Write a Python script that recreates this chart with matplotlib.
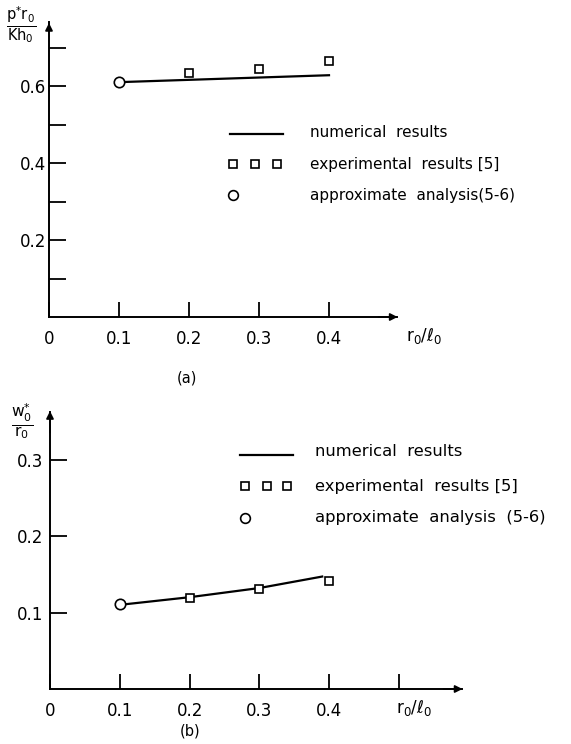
import matplotlib
matplotlib.use("Agg")
import matplotlib.pyplot as plt

# (a) dimensionless load vs r0/l0
x_num_a = [0.1, 0.2, 0.3, 0.4]
y_num_a = [0.610, 0.616, 0.622, 0.628]
x_exp_a = [0.2, 0.3, 0.4]
y_exp_a = [0.634, 0.645, 0.666]
x_app_a = [0.1]
y_app_a = [0.610]

# (b) dimensionless deflection vs r0/l0
x_num_b = [0.1, 0.2, 0.3, 0.39]
y_num_b = [0.110, 0.120, 0.132, 0.147]
x_exp_b = [0.2, 0.3, 0.4]
y_exp_b = [0.119, 0.131, 0.141]
x_app_b = [0.1]
y_app_b = [0.111]

xticks_a = [0, 0.1, 0.2, 0.3, 0.4]
xticklabels_a = ["0", "0.1", "0.2", "0.3", "0.4"]
yticks_a = [0.1, 0.2, 0.3, 0.4, 0.5, 0.6, 0.7]
yticklabels_a = ["", "0.2", "", "0.4", "", "0.6", ""]

xticks_b = [0, 0.1, 0.2, 0.3, 0.4, 0.5]
xticklabels_b = ["0", "0.1", "0.2", "0.3", "0.4", ""]
yticks_b = [0.1, 0.2, 0.3]
yticklabels_b = ["0.1", "0.2", "0.3"]

legend_labels_a = ["numerical  results", "experimental  results [5]", "approximate  analysis(5-6)"]
legend_labels_b = ["numerical  results", "experimental  results [5]", "approximate  analysis  (5-6)"]

plt.rcParams["font.family"] = "DejaVu Sans"
plt.rcParams["mathtext.fontset"] = "dejavusans"

W, H = 571, 744
fig = plt.figure(figsize=(W / 100, H / 100), dpi=100)


def place(ox, oy, sx, sy, xlim, ylim):
    # axes whose data->pixel mapping is origin (ox, oy) px, sx/sy px per unit
    left = ox + xlim[0] * sx
    right = ox + xlim[1] * sx
    bottom = oy - ylim[0] * sy
    top = oy - ylim[1] * sy
    ax = fig.add_axes([left / W, 1 - bottom / H, (right - left) / W, (bottom - top) / H])
    ax.set_xlim(*xlim)
    ax.set_ylim(*ylim)
    ax.patch.set_visible(False)
    return ax


def style_axes(ax, xend, yend, xticks, xtl, yticks, ytl, ypad):
    for s in ["top", "right"]:
        ax.spines[s].set_visible(False)
    ax.spines["left"].set_position(("data", 0))
    ax.spines["bottom"].set_position(("data", 0))
    ax.spines["left"].set_bounds(0, yend)
    ax.spines["bottom"].set_bounds(0, xend)
    for s in ["left", "bottom"]:
        ax.spines[s].set_linewidth(1.4)
    ax.annotate("", xy=(0, yend + 0.005), xytext=(0, yend - 0.03),
                arrowprops=dict(arrowstyle="-|>", color="black", lw=1.2, mutation_scale=11))
    ax.annotate("", xy=(xend + 0.005, 0), xytext=(xend - 0.03, 0),
                arrowprops=dict(arrowstyle="-|>", color="black", lw=1.2, mutation_scale=11))
    ax.set_xticks(xticks)
    ax.set_xticklabels(xtl)
    ax.set_yticks(yticks)
    ax.set_yticklabels(ytl)
    ax.tick_params(axis="x", direction="in", length=11, width=1.3, pad=9, labelsize=12)
    ax.tick_params(axis="y", direction="in", length=12, width=1.3, pad=ypad, labelsize=12)


def draw_legend(ax, x0, x1, xt, ys, sq_x, labels, fs):
    ax.plot([x0, x1], [ys[0], ys[0]], color="black", lw=1.6, clip_on=False)
    ax.plot(sq_x, [ys[1]] * len(sq_x), ls="none", marker="s", ms=6, mfc="white",
            mec="black", mew=1.2, clip_on=False)
    ax.plot([sq_x[0]], [ys[2]], ls="none", marker="o", ms=7, mfc="white",
            mec="black", mew=1.2, clip_on=False)
    for i, (y, lab) in enumerate(zip(ys, labels)):
        ax.text(xt, y + (0.004 if i == 0 else 0), lab, fontsize=fs, va="center", ha="left")


# ---------------- (a) ----------------
ax1 = place(49, 317, 700, 385, (-0.07, 0.74), (-0.09, 0.82))
style_axes(ax1, 0.497, 0.766, xticks_a, xticklabels_a, yticks_a, yticklabels_a, 2)
ax1.plot(x_num_a, y_num_a, color="black", lw=1.6)
ax1.plot(x_exp_a, y_exp_a, ls="none", marker="s", ms=6, mfc="white", mec="black", mew=1.2)
ax1.plot(x_app_a, y_app_a, ls="none", marker="o", ms=7.5, mfc="white", mec="black", mew=1.2)
draw_legend(ax1, 0.259, 0.334, 0.373, [0.475, 0.397, 0.316], [0.263, 0.294, 0.326],
            legend_labels_a, 11)
ax1.text(-0.04, 0.757, r"$\frac{\mathrm{p^{*}r_0}}{\mathrm{Kh_0}}$", fontsize=15,
         ha="center", va="center")
ax1.text(0.51, -0.05, r"$\mathrm{r_0/\ell_0}$", fontsize=12, ha="left", va="center")
fig.text(187 / W, 1 - 378 / H, "(a)", fontsize=10.5, ha="center", va="center")

# ---------------- (b) ----------------
ax2 = place(50, 689, 698, 765, (-0.07, 0.74), (-0.06, 0.40))
style_axes(ax2, 0.59, 0.362, xticks_b, xticklabels_b, yticks_b, yticklabels_b, 5)
ax2.plot(x_num_b, y_num_b, color="black", lw=1.6)
ax2.plot(x_exp_b, y_exp_b, ls="none", marker="s", ms=6, mfc="white", mec="black", mew=1.2)
ax2.plot(x_app_b, y_app_b, ls="none", marker="o", ms=7.5, mfc="white", mec="black", mew=1.2)
draw_legend(ax2, 0.272, 0.348, 0.38, [0.306, 0.265, 0.224], [0.279, 0.311, 0.340],
            legend_labels_b, 11.8)
ax2.text(-0.04, 0.349, r"$\frac{\mathrm{w_0^{*}}}{\mathrm{r_0}}$", fontsize=16,
         ha="center", va="center")
ax2.text(0.495, -0.025, r"$\mathrm{r_0/\ell_0}$", fontsize=12, ha="left", va="center")
fig.text(190 / W, 1 - 731 / H, "(b)", fontsize=10.5, ha="center", va="center")

fig.savefig("out.png", dpi=100)
